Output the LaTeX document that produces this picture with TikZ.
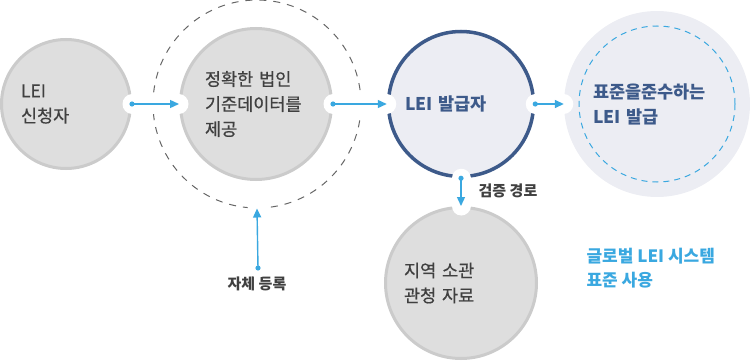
\documentclass[tikz,border=0pt]{standalone}
\usepackage{fontspec}
\setmainfont{Noto Sans CJK KR}
\newfontfamily\semibold[FakeBold=0.6]{Noto Sans CJK KR}
\usepackage{tikz}
\usetikzlibrary{arrows.meta,positioning}
\definecolor{Disk}{HTML}{DEDEDE}
\definecolor{DiskRule}{HTML}{CBCBCB}
\definecolor{Navy}{HTML}{3D5A8A}
\definecolor{NavyPale}{HTML}{ECEDF3}
\definecolor{Sky}{HTML}{3AA8E0}
\definecolor{Ink}{HTML}{404040}

\begin{document}
\begin{tikzpicture}[x=1pt,y=-1pt,
  disk/.style={circle,draw=DiskRule,line width=3pt,fill=Disk,text=Ink,align=left,font=\fontsize{17.5}{25}\semibold},
  issuer/.style={circle,draw=Navy,line width=3.5pt,fill=NavyPale,text=Navy,align=left,font=\fontsize{17.5}{25}\selectfont\bfseries},
  arrow/.style={-{Triangle[length=9pt,width=8pt]},line width=1.4pt,draw=Sky,
    preaction={draw=white,line width=19pt,line cap=round,arrows=-}},
  dot/.style={fill=Sky},
  tag/.style={font=\fontsize{15}{18}\selectfont\bfseries,text=Ink}
]
  \useasboundingbox (0,0) rectangle (750,361);
  % circles
  \node[disk,minimum size=129pt,text width=90pt] (app) at (66,104) {LEI\\신청자};
  \node[circle,draw=Ink!80,dashed,dash pattern=on 7pt off 7pt,line width=1pt,minimum size=208pt] (ring) at (257,104) {};
  \node[disk,minimum size=151pt,text width=102pt] (data) at (256,104) {정확한 법인\\기준데이터를\\제공};
  \node[issuer,minimum size=145pt,text width=112pt] (lei) at (461,104) {LEI 발급자};
  \node[circle,fill=NavyPale,minimum size=186pt] (std) at (657,104) {};
  \node[circle,draw=Sky,dashed,dash pattern=on 6pt off 5pt,line width=1pt,minimum size=156pt,
    text width=128pt,align=left,text=Navy,font=\fontsize{17.5}{25}\selectfont\bfseries] (stdin) at (657,104) {표준을준수하는\\LEI 발급};
  \node[disk,minimum size=151pt,text width=114pt] (local) at (461,283) {지역 소관\\관청 자료};
  % labels
  \node[tag] (check) at (508,191) {검증 경로};
  \node[tag] (reg) at (257,284) {자체 등록};
  \coordinate (regdot) at (258,268);
  \node[anchor=west,align=left,text=Sky,font=\fontsize{17}{24}\selectfont\bfseries] (note) at (583,268) {글로벌 LEI 시스템\\표준 사용};
  % connectors
  \draw[arrow] (app.east) -- (data.west);
  \draw[arrow] (data.east) -- (lei.west);
  \draw[arrow] (lei.east) -- (std.west);
  \draw[arrow] (lei.south) -- (local.north);
  \draw[arrow] (regdot) -- (ring.south);
  \foreach \p in {app.east,data.east,lei.east,lei.south,regdot}
    \fill[dot] (\p) circle (2.6pt);
\end{tikzpicture}
\end{document}
